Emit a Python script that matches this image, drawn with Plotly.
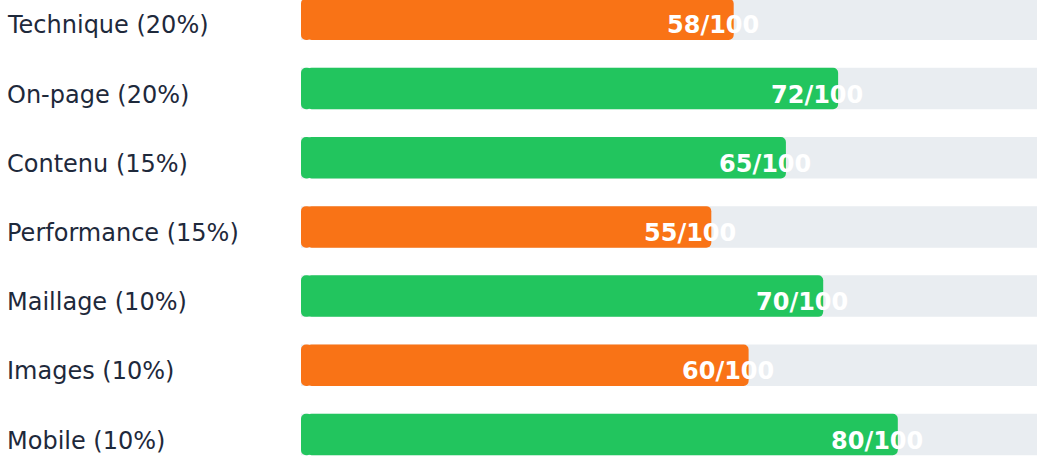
import plotly.graph_objects as go

categories = ["Technique (20%)", "On-page (20%)", "Contenu (15%)", "Performance (15%)",
              "Maillage (10%)", "Images (10%)", "Mobile (10%)"]
scores = [58, 72, 65, 55, 70, 60, 80]
max_score = 100
orange = "#f97316"
green = "#22c55e"
colors = [orange if s < 65 else green for s in scores]

ypos = list(range(len(categories)))

fig = go.Figure()
fig.add_trace(go.Bar(x=[max_score] * len(categories), y=ypos, orientation="h",
                     width=0.6, marker=dict(color="#e9edf1", line=dict(width=0)),
                     hoverinfo="skip", showlegend=False))
# short left cap (rounded at x=0) + main bar (rounded at the score end)
cap = 1.5
fig.add_trace(go.Bar(x=[-cap] * len(scores), base=[cap] * len(scores), y=ypos,
                     orientation="h", width=0.6,
                     marker=dict(color=colors, line=dict(width=0), cornerradius=5),
                     hoverinfo="skip", showlegend=False))
fig.add_trace(go.Bar(x=[s - cap / 2 for s in scores], base=[cap / 2] * len(scores), y=ypos,
                     orientation="h", width=0.6,
                     marker=dict(color=colors, line=dict(width=0), cornerradius=5),
                     customdata=scores, hovertemplate="%{customdata}/100<extra></extra>",
                     showlegend=False))

font_family = "DejaVu Sans"
for y, (c, s) in enumerate(zip(categories, scores)):
    fig.add_annotation(x=0, xref="paper", y=y, yref="y", text=c, showarrow=False,
                       xanchor="left", xshift=-296, yshift=-6,
                       font=dict(family=font_family, size=24, color="#1e293b"))
    fig.add_annotation(x=s, xref="x", y=y, yref="y", text=f"<b>{s}/{max_score}</b>",
                       showarrow=False, xanchor="center", xshift=-21, yshift=-6,
                       font=dict(family=font_family, size=24, color="#ffffff"))

fig.update_layout(
    width=1037, height=457, margin=dict(l=301, r=0, t=0, b=0),
    barmode="overlay", plot_bgcolor="white", paper_bgcolor="white",
    xaxis=dict(range=[0, 98.66], visible=False, fixedrange=True),
    yaxis=dict(range=[6.325, -0.279], visible=False, fixedrange=True),
    font=dict(family=font_family),
)
fig.write_html("out.html")
